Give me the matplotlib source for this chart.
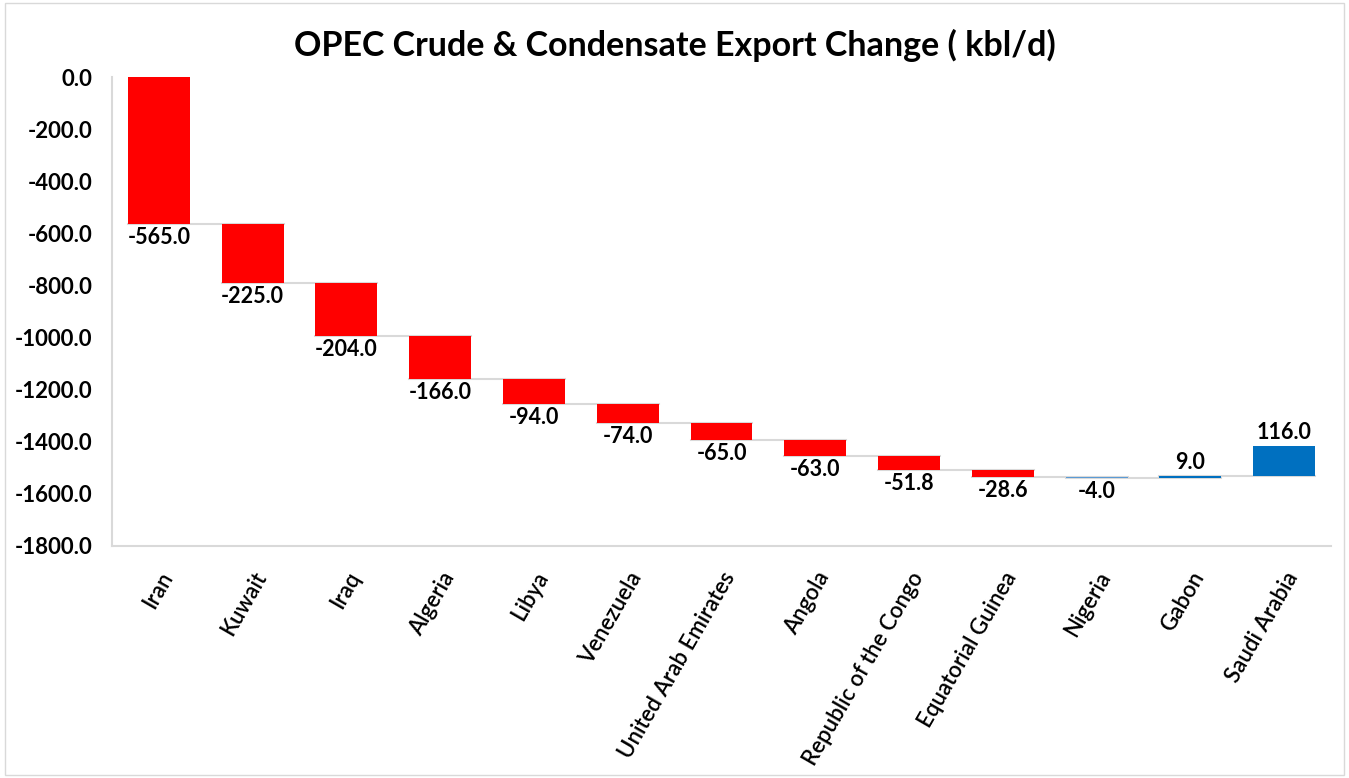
import matplotlib
matplotlib.use("Agg")
import matplotlib.pyplot as plt
import numpy as np

countries = ["Iran", "Kuwait", "Iraq", "Algeria", "Libya", "Venezuela",
             "United Arab Emirates", "Angola", "Republic of the Congo",
             "Equatorial Guinea", "Nigeria", "Gabon", "Saudi Arabia"]
changes = [-565.0, -225.0, -204.0, -166.0, -94.0, -74.0, -65.0, -63.0,
           -51.8, -28.6, -4.0, 9.0, 116.0]
# Nigeria is drawn in blue in the original chart
colors = ["#FF0000"] * 10 + ["#5B9BD5", "#0070C0", "#0070C0"]

plt.rcParams['font.family'] = ['Lato', 'DejaVu Sans']

vals = np.array(changes)
ends = np.cumsum(vals)
starts = ends - vals
x = np.arange(len(countries))

fig = plt.figure(figsize=(13.49, 7.78), dpi=100)
ax = fig.add_axes([112 / 1349, (778 - 546) / 778, 1219 / 1349, 469 / 778])

width = 0.66
ax.bar(x, vals, bottom=starts, width=width, color=colors, zorder=3)

# connector lines
for i in range(len(x) - 1):
    ax.plot([x[i] - width / 2, x[i + 1] + width / 2], [ends[i], ends[i]],
            color="#D9D9D9", lw=1.5, zorder=2)

# data labels
for i, v in enumerate(vals):
    if v < 0:
        ax.text(x[i], ends[i] - 12, f"{v:.1f}", ha="center", va="top",
                fontsize=15.5, fontweight="bold")
    else:
        ax.text(x[i], ends[i] + 12, f"{v:.1f}", ha="center", va="bottom",
                fontsize=15.5, fontweight="bold")

ax.set_xlim(-0.5, len(x) - 0.5)
ax.set_ylim(-1800, 0)
ax.set_yticks(np.arange(-1800, 1, 200))
ax.set_yticklabels([f"{t:.1f}" for t in np.arange(-1800, 1, 200)],
                   fontsize=16, fontweight="bold")
ax.set_xticks(x)
ax.set_xticklabels(countries, rotation=60, ha="right", rotation_mode="anchor",
                   fontsize=16, fontweight="semibold")
ax.tick_params(axis="both", length=0)
ax.tick_params(axis="y", pad=14)
ax.tick_params(axis="x", pad=16)

for s in ["top", "right"]:
    ax.spines[s].set_visible(False)
for s in ["left", "bottom"]:
    ax.spines[s].set_color("#D9D9D9")
    ax.spines[s].set_linewidth(1.5)

fig.text(0.5, 1 - 45 / 778, "OPEC Crude & Condensate Export Change ( kbl/d)",
         ha="center", va="center", fontsize=24.5, fontweight="bold")

border = plt.Rectangle((0.004, 0.004), 0.992, 0.992, transform=fig.transFigure,
                       fill=False, edgecolor="#D9D9D9", lw=1)
fig.patches.append(border)

fig.savefig("out.png", dpi=100)
